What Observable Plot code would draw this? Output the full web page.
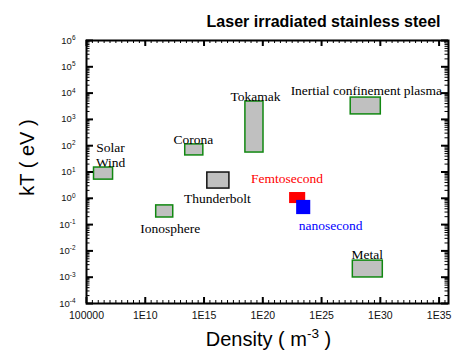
<!DOCTYPE html>
<html><head><meta charset="utf-8">
<script src="https://cdn.jsdelivr.net/npm/d3@7"></script>
<script src="https://cdn.jsdelivr.net/npm/@observablehq/plot@0.6"></script>
<style>body{margin:0;background:#fff}</style>
</head><body><div id="chart"></div>
<script>
// Regions (log10 of density in m^-3, log10 of kT in eV)
const regions   = ["Solar Wind","Ionosphere","Corona","Thunderbolt","Tokamak","Inertial confinement plasma","Metal"];
const regionXLo = [5.64, 10.93, 13.40, 15.28, 18.52, 27.48, 27.66];
const regionXHi = [7.26, 12.38, 14.94, 17.16, 20.06, 30.04, 30.21];
const regionYLo = [0.71, -0.73, 1.63, 0.37, 1.74, 3.19, -3.01];
const regionYHi = [1.17, -0.27, 2.05, 0.98, 3.68, 3.83, -2.37];

// Laser-irradiated steel
const lasers   = ["Femtosecond","nanosecond"];
const laserXLo = [22.28, 22.88];
const laserXHi = [23.65, 24.08];
const laserYLo = [-0.20, -0.62];
const laserYHi = [0.22, -0.08];

// Annotation labels
const labelTexts = ["Solar\nWind","Corona","Tokamak","Thunderbolt","Ionosphere","Inertial confinement plasma","Metal"];
const labelX     = [7.05, 14.09, 19.38, 16.13, 12.12, 28.81, 28.89];
const labelY     = [1.65, 2.25, 3.88, -0.02, -1.16, 4.10, -2.12];
const laserLabelX = [22.06, 25.78];
const laserLabelY = [0.74, -1.03];

// Axis ticks
const xTickExp    = [5, 10, 15, 20, 25, 30, 35];
const xTickLabels = ["100000","1E10","1E15","1E20","1E25","1E30","1E35"];
const yTickExp    = [-4, -3, -2, -1, 0, 1, 2, 3, 4, 5, 6];
const yTickLabels = ["10^-4","10^-3","10^-2","10^-1","10^0","10^1","10^2","10^3","10^4","10^5","10^6"];

const regionTable = regions.map((name, i) => ({name, x1: 10 ** regionXLo[i], x2: 10 ** regionXHi[i], y1: 10 ** regionYLo[i], y2: 10 ** regionYHi[i]}));
const laserTable = lasers.map((name, i) => ({name, x1: 10 ** laserXLo[i], x2: 10 ** laserXHi[i], y1: 10 ** laserYLo[i], y2: 10 ** laserYHi[i], lx: 10 ** laserLabelX[i], ly: 10 ** laserLabelY[i]}));
const labelTable = labelTexts.map((text, i) => ({text, x: 10 ** labelX[i], y: 10 ** labelY[i]}));

const xMajor = xTickExp.map(e => 10 ** e);
const yMajor = yTickExp.map(e => 10 ** e);
const xLabelMap = new Map(xMajor.map((v, i) => [v, xTickLabels[i]]));
const yLabelMap = new Map(yMajor.map((v, i) => [v, yTickLabels[i]]));
const xMinor = d3.range(10, 72).map(k => 10 ** (k / 2));
const yMinor = [];
for (let e = -4; e < 6; e++) for (let k = 2; k <= 9; k++) yMinor.push(k * 10 ** e);

const W = 452, H = 351, mL = 86, mR = 4, mT = 40, mB = 48;
const iw = W - mL - mR, ih = H - mT - mB;
const serif = "'Liberation Serif', 'Times New Roman', serif";

const chart = Plot.plot({
  width: W, height: H,
  marginLeft: mL, marginRight: mR, marginTop: mT, marginBottom: mB,
  style: {fontFamily: "'Liberation Sans', Arial, sans-serif", background: "#fff", color: "#111", overflow: "visible"},
  x: {type: "log", domain: [1e5, 10 ** 35.8]},
  y: {type: "log", domain: [1e-4, 1e6]},
  marks: [
    Plot.rect(regionTable.filter(d => d.name !== "Thunderbolt"), {x1: "x1", x2: "x2", y1: "y1", y2: "y2", fill: "#c0c0c0", stroke: "#118811", strokeWidth: 1.5}),
    Plot.rect(regionTable.filter(d => d.name === "Thunderbolt"), {x1: "x1", x2: "x2", y1: "y1", y2: "y2", fill: "#c0c0c0", stroke: "#111", strokeWidth: 1.5}),
    Plot.rect([laserTable[0]], {x1: "x1", x2: "x2", y1: "y1", y2: "y2", fill: "#ff0000"}),
    Plot.rect([laserTable[1]], {x1: "x1", x2: "x2", y1: "y1", y2: "y2", fill: "#0000ff"}),
    Plot.text(labelTable, {x: "x", y: "y", text: "text", fontFamily: serif, fontSize: 13.5, lineHeight: 1.06, fill: "#000"}),
    Plot.text([laserTable[0]], {x: "lx", y: "ly", text: "name", fontFamily: serif, fontSize: 13.5, fill: "#ff0000"}),
    Plot.text([laserTable[1]], {x: "lx", y: "ly", text: "name", fontFamily: serif, fontSize: 13.5, fill: "#0000ff"}),
    // inward ticks on all four sides
    Plot.tickY(yMajor, {y: d => d, insetRight: iw - 7, strokeWidth: 2, stroke: "#000"}),
    Plot.tickY(yMajor, {y: d => d, insetLeft: iw - 7, strokeWidth: 2, stroke: "#000"}),
    Plot.tickY(yMinor, {y: d => d, insetRight: iw - 3.5, strokeWidth: 1, stroke: "#000"}),
    Plot.tickY(yMinor, {y: d => d, insetLeft: iw - 3.5, strokeWidth: 1, stroke: "#000"}),
    Plot.tickX(xMajor, {x: d => d, insetTop: ih - 6, strokeWidth: 2, stroke: "#000"}),
    Plot.tickX(xMajor, {x: d => d, insetBottom: ih - 6, strokeWidth: 2, stroke: "#000"}),
    Plot.tickX(xMinor, {x: d => d, insetTop: ih - 3, strokeWidth: 1, stroke: "#000"}),
    Plot.tickX(xMinor, {x: d => d, insetBottom: ih - 3, strokeWidth: 1, stroke: "#000"}),
    Plot.frame({stroke: "#000", strokeWidth: 2}),
    Plot.axisY(yMajor, {anchor: "left", tickSize: 0, tickPadding: 11, tickFormat: d => yLabelMap.get(d), fontSize: 9.5, label: null}),
    Plot.axisX(xMajor, {anchor: "bottom", tickSize: 0, tickPadding: 8, tickFormat: d => xLabelMap.get(d), fontSize: 10.5, label: null}),
    Plot.text(["Laser irradiated stainless steel"], {text: d => d, frameAnchor: "top-right", dx: -8, dy: -19, textAnchor: "end", lineAnchor: "middle", fontWeight: "bold", fontSize: 16, fill: "#000"}),
    Plot.text(["Density ( m^{-3} )"], {text: d => d, frameAnchor: "bottom", dx: 1, dy: 35.6, textAnchor: "middle", lineAnchor: "middle", fontSize: 20, fill: "#000"}),
    Plot.text(["kT ( eV )"], {text: d => d, frameAnchor: "left", rotate: -90, dx: -59, dy: -14.5, textAnchor: "middle", lineAnchor: "middle", fontSize: 20, fill: "#000"})
  ]
});

// superscripts: "base^sup" or "base^{sup}rest"
d3.select(chart).selectAll("text").each(function () {
  if (this.childElementCount > 0) return;
  const t = this.textContent;
  const m = t.match(/^(.*?)\^(?:\{([^}]*)\}|(\S+))(.*)$/);
  if (!m) return;
  const base = m[1], sup = m[2] ?? m[3], rest = m[4];
  this.textContent = base;
  const sel = d3.select(this);
  sel.append("tspan").attr("dy", "-0.55em").attr("font-size", "68%").text(sup);
  if (rest) sel.append("tspan").attr("dy", "0.374em").text(rest);
});

document.getElementById("chart").appendChild(chart);
</script>
</body></html>
